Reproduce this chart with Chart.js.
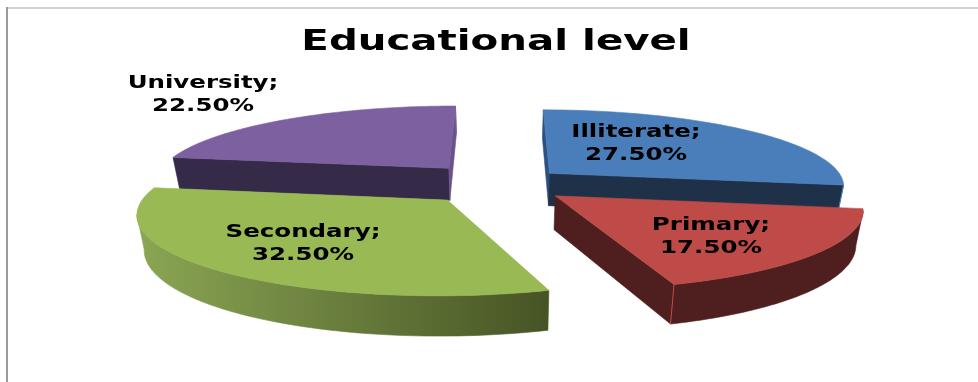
<!DOCTYPE html>
<html>
<head>
<meta charset="utf-8">
<title>Educational level</title>
<script src="https://cdn.jsdelivr.net/npm/chart.js@4"></script>
<style>
    html, body { margin: 0; padding: 0; background: #fff; overflow: hidden; }
    #wrap { width: 978px; height: 382px; }
</style>
</head>
<body>
<div id="wrap"><canvas id="eduChart"></canvas></div>
<script>
const chartTitle = 'Educational level';
const categories = ['Illiterate', 'Primary', 'Secondary', 'University'];
const shares = [27.5, 17.5, 32.5, 22.5];

const topColors = ['#4a7ebb', '#be4b48', '#98b954', '#7d60a0'];
const explode = [22, 23.5, 27, 28];

// side colours of each slice: outer wall (left, right), start cut, end cut
const wallColors = [['#1f3149', '#1f3149'], ['#4e1f1e', '#4e1f1e'], ['#8ba654', '#465424'], ['#352a47', '#352a47']];
const startCut = ['#2d5080', '#4e1f1e', '#6f8a3d', '#352a47'];
const endCut = ['#1f3149', '#4e1f1e', '#6f8a3d', '#6b5388'];

// where the two line labels sit (centre x, first baseline)
const labelSpots = [[636, 137], [711, 230], [303, 237], [203, 88]];

// tilted camera used for the 3D look
const view = { rx: 296, ry: 76, persp: 0.15, depth: 33, shrink: 0.02 };

function project(el, u, v, h) {
    const s = 1 / (1 - view.persp * v);
    return {
        x: el.x + u * view.rx * s * (1 - view.shrink * h),
        y: el.y + v * view.ry * s + h * view.depth * s
    };
}

function stretchedText(ctx, text, x, y, font, stretch) {
    ctx.save();
    ctx.font = font;
    ctx.fillStyle = '#000';
    ctx.textAlign = 'center';
    ctx.textBaseline = 'alphabetic';
    ctx.translate(x, y);
    ctx.scale(stretch, 1);
    ctx.fillText(text, 0, 0);
    ctx.restore();
}

function fillPoly(ctx, pts, style) {
    ctx.beginPath();
    pts.forEach((p, i) => i ? ctx.lineTo(p.x, p.y) : ctx.moveTo(p.x, p.y));
    ctx.closePath();
    ctx.fillStyle = style;
    ctx.strokeStyle = style;
    ctx.lineWidth = 0.6;
    ctx.fill();
    ctx.stroke();
}

function drawSlice(ctx, el, i) {
    const mid = (el.startAngle + el.endAngle) / 2;
    const e = el.options.offset / 100;
    const ox = Math.cos(mid) * e, oy = Math.sin(mid) * e;
    const rimAt = (a, h) => project(el, Math.cos(a) + ox, Math.sin(a) + oy, h);
    const apex = h => project(el, ox, oy, h);
    const steps = 80;
    const angle = k => el.startAngle + (el.endAngle - el.startAngle) * k / steps;

    // outer wall: only the part of the rim turned towards the viewer
    const xs = [];
    for (let k = 0; k <= steps; k++) xs.push(rimAt(angle(k), 0).x);
    const grad = ctx.createLinearGradient(Math.min(...xs), 0, Math.max(...xs), 0);
    grad.addColorStop(0, wallColors[i][0]);
    grad.addColorStop(1, wallColors[i][1]);
    let run = [];
    const flush = () => {
        if (run.length > 1) {
            const upper = run.map(a => rimAt(a, 0));
            const lower = run.map(a => rimAt(a, 1)).reverse();
            fillPoly(ctx, upper.concat(lower), grad);
        }
        run = [];
    };
    for (let k = 0; k < steps; k++) {
        if (xs[k + 1] < xs[k]) {
            if (!run.length) run.push(angle(k));
            run.push(angle(k + 1));
        } else {
            flush();
        }
    }
    flush();

    // cut faces, skipped when they look away
    const cutFacing = a => {
        const p = apex(0), r = rimAt(a, 0), q = apex(1);
        return (r.x - p.x) * (q.y - p.y) - (r.y - p.y) * (q.x - p.x);
    };
    if (cutFacing(el.startAngle) < 0) {
        fillPoly(ctx, [apex(0), rimAt(el.startAngle, 0), rimAt(el.startAngle, 1), apex(1)], startCut[i]);
    }
    if (cutFacing(el.endAngle) > 0) {
        fillPoly(ctx, [apex(0), rimAt(el.endAngle, 0), rimAt(el.endAngle, 1), apex(1)], endCut[i]);
        const t = rimAt(el.endAngle, 0), d = rimAt(el.endAngle, 1);
        ctx.beginPath();
        ctx.moveTo(t.x, t.y);
        ctx.lineTo(d.x, d.y);
        ctx.strokeStyle = el.options.backgroundColor;
        ctx.lineWidth = 1;
        ctx.stroke();
    }

    // top face
    const top = [apex(0)];
    for (let k = 0; k <= steps; k++) top.push(rimAt(angle(k), 0));
    fillPoly(ctx, top, el.options.backgroundColor);
}

const tiltedPie = {
    id: 'tiltedPie',
    beforeDraw(chart) {
        const ctx = chart.ctx;
        ctx.save();
        ctx.fillStyle = '#d2d2d2';
        ctx.fillRect(7, 7, 971, 2);
        ctx.fillStyle = '#9c9c9c';
        ctx.fillRect(6, 7, 2, 375);
        ctx.restore();
    },
    // the library's flat arcs are replaced by the projected ones below
    beforeDatasetDraw() {
        return false;
    },
    afterDatasetsDraw(chart) {
        const ctx = chart.ctx;
        const arcs = chart.getDatasetMeta(0).data;
        ctx.save();
        // back slices first
        [3, 0, 1, 2].forEach(i => drawSlice(ctx, arcs[i], i));
        ctx.restore();

        stretchedText(ctx, chartTitle, 496, 50, 'bold 29px "DejaVu Sans"', 1.39);
        categories.forEach((name, i) => {
            const [x, y] = labelSpots[i];
            const font = 'bold 17px "DejaVu Sans"';
            stretchedText(ctx, name + ';', x, y, font, 1.44);
            stretchedText(ctx, shares[i].toFixed(2) + '%', x, y + 23, font, 1.44);
        });
    }
};

new Chart(document.getElementById('eduChart'), {
    type: 'pie',
    data: {
        labels: categories,
        datasets: [{
            data: shares,
            backgroundColor: topColors,
            offset: explode,
            borderWidth: 0
        }]
    },
    options: {
        responsive: true,
        maintainAspectRatio: false,
        animation: false,
        layout: { padding: { top: 60, bottom: 74, left: 24, right: 0 } },
        plugins: {
            legend: { display: false },
            title: { display: false },
            tooltip: { enabled: false }
        }
    },
    plugins: [tiltedPie]
});
</script>
</body>
</html>
